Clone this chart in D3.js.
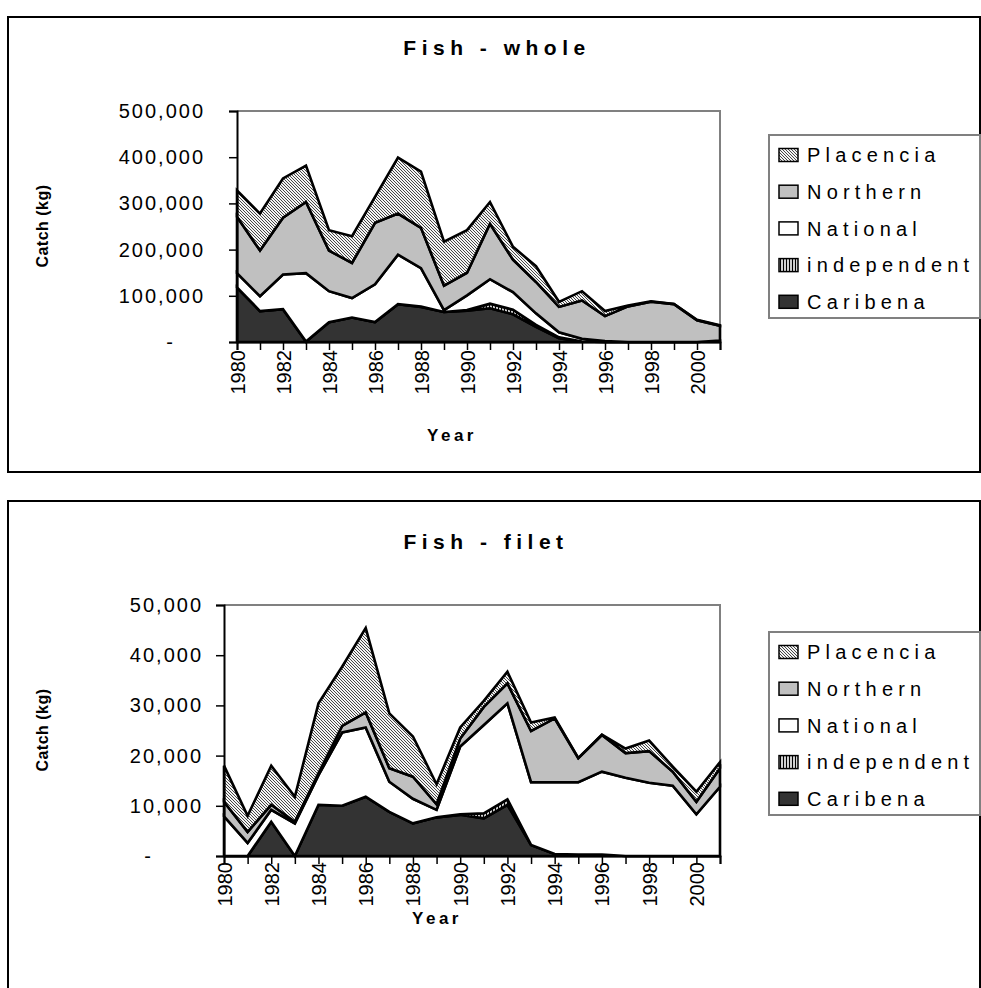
<!DOCTYPE html>
<html><head><meta charset="utf-8">
<script src="https://cdn.jsdelivr.net/npm/d3@7"></script>
<style>body{margin:0;background:#fff;overflow:hidden}</style>
</head><body>
<svg id="c" width="981" height="988"></svg>
<script>
// ---------- data ----------
const years = [1980,1981,1982,1983,1984,1985,1986,1987,1988,1989,1990,1991,1992,1993,1994,1995,1996,1997,1998,1999,2000,2001];
const seriesNames = ["Caribena","independent","National","Northern","Placencia"];

const wholeCaribena    = [118000,67000,71000,1000,43000,53000,43000,82000,76000,65000,68000,73000,60000,33000,8000,1000,0,0,0,0,0,3000];
const wholeIndependent = [0,0,0,0,0,0,0,0,1000,0,1000,10000,10000,4000,2000,0,0,0,0,0,0,0];
const wholeNational    = [31000,32000,75000,148000,67000,42000,82000,107000,83000,4000,32000,53000,38000,25000,11000,6000,2000,0,0,0,0,0];
const wholeNorthern    = [122000,99000,123000,154000,88000,76000,133000,89000,87000,53000,49000,120000,70000,68000,55000,83000,54000,77000,87000,82000,47000,32000];
const wholePlacencia   = [57000,80000,85000,79000,44000,58000,56000,121000,122000,95000,92000,47000,28000,34000,11000,20000,11000,2000,1000,0,1000,1000];

const filetCaribena    = [0,0,6800,0,10200,10000,11800,8800,6500,7700,8200,7500,10200,2200,400,300,300,0,0,0,0,0];
const filetIndependent = [0,0,0,0,0,0,0,0,0,0,100,1000,1100,0,0,0,0,0,0,0,0,0];
const filetNational    = [7900,2600,2400,6500,5900,14600,13800,6000,4900,1500,13500,17600,19100,12500,14300,14400,16500,15600,14600,14000,8300,13800];
const filetNorthern    = [2900,2200,1000,300,400,1300,3000,2700,4400,1100,1600,3600,4000,10200,12700,4800,7300,4900,6300,2800,2500,3700];
const filetPlacencia   = [7200,3200,7800,5000,13900,11800,16800,10900,8000,4000,2200,1200,2300,1700,200,0,100,900,2100,1000,2000,1200];

const wholeYTicks = [0,100000,200000,300000,400000,500000];
const filetYTicks = [0,10000,20000,30000,40000,50000];
const xLabelYears = [1980,1982,1984,1986,1988,1990,1992,1994,1996,1998,2000];

// ---------- drawing ----------
const FONT = '"Liberation Sans", Arial, sans-serif';
const svg = d3.select("#c");
const defs = svg.append("defs");

const hatch = defs.append("pattern").attr("id","hatch").attr("patternUnits","userSpaceOnUse")
  .attr("width",3).attr("height",3);
hatch.append("rect").attr("width",3).attr("height",3).attr("fill","#f4f4f4");
hatch.append("path").attr("d","M-1,-1 L4,4 M2,-1 L4,1 M-1,2 L1,4").attr("stroke","#333").attr("stroke-width",0.9);

const vstripe = defs.append("pattern").attr("id","vstripe").attr("patternUnits","userSpaceOnUse")
  .attr("width",3).attr("height",3);
vstripe.append("rect").attr("width",3).attr("height",3).attr("fill","#d0d0d0");
vstripe.append("rect").attr("width",1).attr("height",3).attr("fill","#000");

const fills = {Caribena:"#333333", independent:"url(#vstripe)", National:"#ffffff", Northern:"#c0c0c0", Placencia:"url(#hatch)"};

function drawChart(cfg){
  const g = svg.append("g");
  g.append("rect").attr("x",cfg.box[0]).attr("y",cfg.box[1]).attr("width",cfg.box[2]).attr("height",cfg.box[3])
    .attr("fill","none").attr("stroke","#000").attr("stroke-width",2);

  const x = d3.scaleLinear().domain([years[0], years[years.length-1]]).range([cfg.left, cfg.right]);
  const y = d3.scaleLinear().domain([0, cfg.yTicks[cfg.yTicks.length-1]]).range([cfg.bottom, cfg.top]);

  const rows = years.map((yr,i)=>{
    const o = {year:yr};
    seriesNames.forEach(k=>{ o[k] = cfg.data[k][i]; });
    return o;
  });
  const stacked = d3.stack().keys(seriesNames)(rows);
  const area = d3.area().x(d=>x(d.data.year)).y0(d=>y(d[0])).y1(d=>y(d[1]));

  g.append("path").attr("d",`M${cfg.left},${cfg.top}H${cfg.right}V${cfg.bottom}`)
    .attr("fill","none").attr("stroke","#808080").attr("stroke-width",2);

  g.selectAll("path.area").data(stacked).join("path").attr("class","area")
    .attr("d",area).attr("fill",d=>fills[d.key])
    .attr("stroke","#000").attr("stroke-width",2.6).attr("stroke-linejoin","miter");

  const ya = g.append("g").attr("transform",`translate(${cfg.left},0)`)
    .call(d3.axisLeft(y).tickValues(cfg.yTicks).tickSize(8).tickPadding(cfg.yPad)
      .tickFormat(d=> d===0 ? "-" : d3.format(",")(d)));
  ya.select(".domain").attr("stroke","#000").attr("stroke-width",2);
  ya.selectAll(".tick line").attr("stroke","#000").attr("stroke-width",1.5);
  ya.selectAll(".tick text").attr("font-family",FONT).attr("font-size",20).attr("letter-spacing",2)
    .attr("fill","#000");
  ya.selectAll(".tick text").filter(d=>d===0).attr("dx",-cfg.dashShift);

  const xa = g.append("g").attr("transform",`translate(0,${cfg.bottom})`)
    .call(d3.axisBottom(x).tickValues(years).tickSize(8)
      .tickFormat(d=> xLabelYears.includes(d) ? String(d) : ""));
  xa.select(".domain").attr("stroke","#000").attr("stroke-width",2);
  xa.selectAll(".tick line").attr("stroke","#000").attr("stroke-width",1.5);
  xa.selectAll(".tick text").attr("font-family",FONT).attr("font-size",20).attr("fill","#000")
    .attr("transform","rotate(-90)").attr("x",-cfg.xlabOff).attr("y",0).attr("dy","0.35em")
    .attr("text-anchor","end");

  g.append("text").attr("x",cfg.title[0]).attr("y",cfg.title[1]).attr("text-anchor","middle")
    .attr("font-family",FONT).attr("font-weight","bold").attr("font-size",21).attr("letter-spacing",5.5)
    .text(cfg.titleText);
  g.append("text").attr("transform",`translate(${cfg.ylab[0]},${cfg.ylab[1]}) rotate(-90)`)
    .attr("text-anchor","middle").attr("font-family",FONT).attr("font-weight","bold").attr("font-size",16)
    .attr("letter-spacing",0.5).text("Catch (kg)");
  g.append("text").attr("x",cfg.xlab[0]).attr("y",cfg.xlab[1]).attr("text-anchor","middle")
    .attr("font-family",FONT).attr("font-weight","bold").attr("font-size",17).attr("letter-spacing",3.5)
    .text("Year");

  const L = cfg.legend;
  g.append("rect").attr("x",L.x).attr("y",L.y).attr("width",L.w).attr("height",L.h)
    .attr("fill","#fff").attr("stroke","#808080").attr("stroke-width",2);
  const order = seriesNames.slice().reverse();
  order.forEach((k,i)=>{
    const cy = L.row0 + i*L.step;
    g.append("rect").attr("x",L.x+10).attr("y",cy-6.5).attr("width",19).attr("height",13)
      .attr("fill",fills[k]).attr("stroke","#000").attr("stroke-width",1.5);
    g.append("text").attr("x",L.x+38).attr("y",cy).attr("dy","0.36em")
      .attr("font-family",FONT).attr("font-size",20).attr("letter-spacing",5.2).text(k);
  });
}

drawChart({
  box:[8,17,972,455], left:237, right:720, top:111, bottom:342, yTicks:wholeYTicks, yPad:24, dashShift:30, xlabOff:8,
  data:{Caribena:wholeCaribena, independent:wholeIndependent, National:wholeNational, Northern:wholeNorthern, Placencia:wholePlacencia},
  title:[497,55], titleText:"Fish - whole", ylab:[48,226], xlab:[452,441],
  legend:{x:769,y:135,w:211,h:183,row0:155,step:36.7}
});
drawChart({
  box:[8,501,972,500], left:224, right:720, top:605, bottom:856, yTicks:filetYTicks, yPad:13, dashShift:50, xlabOff:6,
  data:{Caribena:filetCaribena, independent:filetIndependent, National:filetNational, Northern:filetNorthern, Placencia:filetPlacencia},
  title:[486,549], titleText:"Fish - filet", ylab:[48,730], xlab:[437,924],
  legend:{x:769,y:632,w:211,h:183,row0:652,step:36.7}
});
</script>
</body></html>
